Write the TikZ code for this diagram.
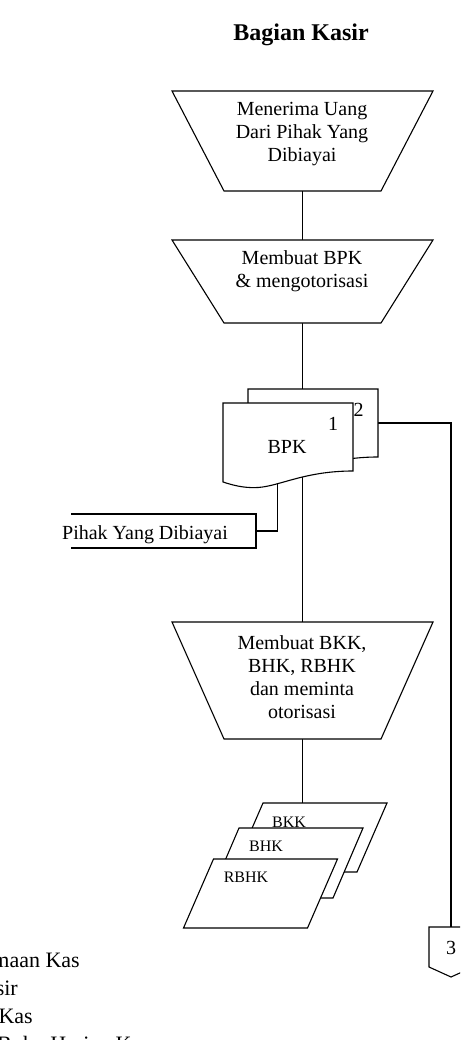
\documentclass[tikz,border=0pt]{standalone}
\usepackage{fontspec}
\setmainfont{Liberation Serif}
\usetikzlibrary{backgrounds,calc}
\newcommand{\docoutline}[1]{%
  (#1.south west) -- (#1.north west) -- (#1.north east) -- ([yshift=11pt]#1.south east)
  .. controls ($(#1.south west)+(82,-11)$) and ($(#1.south west)+(57,4)$) .. ($(#1.south west)+(35,5.5)$)
  .. controls ($(#1.south west)+(25,6)$) and ($(#1.south west)+(15,5)$) .. (#1.south west) -- cycle}
\begin{document}
\begin{tikzpicture}[x=1pt,y=-1pt,
  frame/.style={inner sep=0pt,outer sep=0pt},
  txt/.style={font=\fontsize{20}{23}\selectfont,align=center,inner sep=0pt},
  smalltxt/.style={font=\fontsize{16}{18}\selectfont,inner sep=0pt},
  legendtxt/.style={font=\fontsize{22}{28}\selectfont,inner sep=0pt},
  titletxt/.style={font=\fontsize{24}{28}\selectfont\bfseries,inner sep=0pt},
  outline/.style={draw,line width=1.1pt,fill=white},
  link/.style={draw,line width=1.1pt}]
\useasboundingbox (0,0) rectangle (460,1040);
\clip (0,0) rectangle (460,1040);

% frames
\node[frame,minimum width=261pt,minimum height=100pt] (t1) at (302.5,141) {};
\node[frame,minimum width=261pt,minimum height=83pt] (t2) at (302.5,281.5) {};
\node[frame,minimum width=261pt,minimum height=117pt] (t3) at (302.5,680.5) {};
\node[frame,minimum width=130pt,minimum height=79pt] (bpk2) at (313,428.5) {};
\node[frame,minimum width=130pt,minimum height=79pt] (bpk1) at (288,442.5) {};
\node[frame,minimum width=185pt,minimum height=34pt] (pihak) at (163.5,531) {};
\node[frame,minimum width=124pt,minimum height=69pt] (bkk) at (310,837.5) {};
\node[frame,minimum width=124pt,minimum height=70pt] (bhk) at (286,863) {};
\node[frame,minimum width=124pt,minimum height=69pt] (rbhk) at (260.5,893.5) {};
\node[frame,minimum width=44pt,minimum height=40pt] (off3) at (451,947) {};

% connectors
\begin{scope}[on background layer]
\draw[link] (t1.south) -- (t2.north);
\draw[link] (t2.south) -- (t2.south |- bpk2.north);
\draw[link] (bpk1.center -| t3.north) -- (t3.north);
\draw[link] ($(bpk2.north east)!0.43!(bpk2.south east)$) -| (off3.north);
\draw[link] ($(bpk1.south west)!0.42!(bpk1.south east)$) |- (pihak.east);
\draw[link] (t3.south) -- (t3.south |- bkk.north);
\end{scope}

% title
\node[titletxt] (title) at (301,35) {Bagian Kasir};

% manual operations
\draw[outline] (t1.north west) -- (t1.north east) -- ([xshift=-52pt]t1.south east) -- ([xshift=52pt]t1.south west) -- cycle;
\node[txt] (t1txt) at (302,134.5) {Menerima Uang\\Dari Pihak Yang\\Dibiayai};
\draw[outline] (t2.north west) -- (t2.north east) -- ([xshift=-52pt]t2.south east) -- ([xshift=52pt]t2.south west) -- cycle;
\node[txt] (t2txt) at (302,271) {Membuat BPK\\\& mengotorisasi};
\draw[outline] (t3.north west) -- (t3.north east) -- ([xshift=-52pt]t3.south east) -- ([xshift=52pt]t3.south west) -- cycle;
\node[txt] (t3txt) at (302,677) {Membuat BKK,\\BHK, RBHK\\dan meminta\\otorisasi};

% documents BPK
\draw[outline] \docoutline{bpk2};
\draw[outline] \docoutline{bpk1};
\node[txt] (two) at (358.5,410) {2};
\node[txt] (one) at (333,424) {1};
\node[txt] (bpktxt) at (287,447) {BPK};

% external party
\draw[link] (pihak.north west) -- (pihak.north east) -- (pihak.south east) -- (pihak.south west);
\node[txt] (pihaktxt) at (145,535) {Pihak Yang Dibiayai};

% BKK, BHK, RBHK
\draw[outline] ([xshift=15pt]bkk.north west) -- ([xshift=15pt]bkk.north east) -- ([xshift=-15pt]bkk.south east) -- ([xshift=-15pt]bkk.south west) -- cycle;
\node[smalltxt] (bkktxt) at (289,822) {BKK};
\draw[outline] ([xshift=15pt]bhk.north west) -- ([xshift=15pt]bhk.north east) -- ([xshift=-15pt]bhk.south east) -- ([xshift=-15pt]bhk.south west) -- cycle;
\node[smalltxt] (bhktxt) at (266,846) {BHK};
\draw[outline] ([xshift=15pt]rbhk.north west) -- ([xshift=15pt]rbhk.north east) -- ([xshift=-15pt]rbhk.south east) -- ([xshift=-15pt]rbhk.south west) -- cycle;
\node[smalltxt] (rbhktxt) at (246,877) {RBHK};

% off-page connector
\draw[outline] (off3.north west) -- (off3.north east) -- (off3.south east) -- ([yshift=-10pt]off3.south) -- (off3.south west) -- cycle;
\node[txt] (off3txt) at (451,948) {3};

% legend (cut off at the page edge)
\node[legendtxt,anchor=base east] (lg1) at (80,967) {maan Kas};
\node[legendtxt,anchor=base east] (lg2) at (18,995) {sir};
\node[legendtxt,anchor=base east] (lg3) at (33,1023) {Kas};
\node[legendtxt,anchor=base west] (lg4) at (-3,1051) {Buku Harian Kas};
\end{tikzpicture}
\end{document}
